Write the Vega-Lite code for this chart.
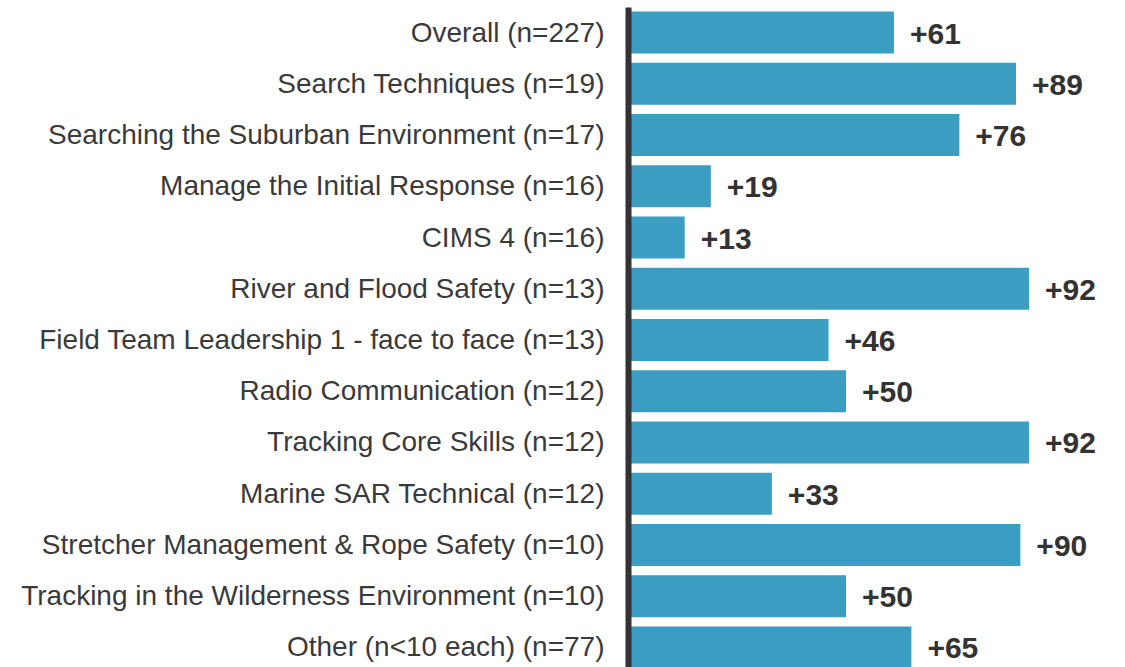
{
  "$schema": "https://vega.github.io/schema/vega-lite/v6.json",
  "autosize": {"type": "none"},
  "padding": {"left": 628, "top": 7, "right": 0, "bottom": 0},
  "width": 497,
  "height": 666,
  "background": "white",
  "config": {"view": {"stroke": null}, "font": "Liberation Sans"},
  "data": {
    "values": [
      {"course": "Overall (n=227)", "value": 61, "label": "+61"},
      {"course": "Search Techniques (n=19)", "value": 89, "label": "+89"},
      {"course": "Searching the Suburban Environment (n=17)", "value": 76, "label": "+76"},
      {"course": "Manage the Initial Response (n=16)", "value": 19, "label": "+19"},
      {"course": "CIMS 4 (n=16)", "value": 13, "label": "+13"},
      {"course": "River and Flood Safety (n=13)", "value": 92, "label": "+92"},
      {"course": "Field Team Leadership 1 - face to face (n=13)", "value": 46, "label": "+46"},
      {"course": "Radio Communication (n=12)", "value": 50, "label": "+50"},
      {"course": "Tracking Core Skills (n=12)", "value": 92, "label": "+92"},
      {"course": "Marine SAR Technical (n=12)", "value": 33, "label": "+33"},
      {"course": "Stretcher Management & Rope Safety (n=10)", "value": 90, "label": "+90"},
      {"course": "Tracking in the Wilderness Environment (n=10)", "value": 50, "label": "+50"},
      {"course": "Other (n<10 each) (n=77)", "value": 65, "label": "+65"}
    ]
  },
  "encoding": {
    "y": {
      "field": "course",
      "type": "nominal",
      "sort": null,
      "scale": {"paddingInner": 0.18, "paddingOuter": 0.09},
      "axis": {
        "title": null,
        "ticks": false,
        "tickSize": 0,
        "labelPadding": 24,
        "labelOffset": 1,
        "labelFontSize": 28,
        "labelColor": "#3a3a3a",
        "labelFont": "Liberation Sans",
        "labelLimit": 1000,
        "domainColor": "#333333",
        "domainWidth": 6,
        "zindex": 1
      }
    },
    "x": {
      "field": "value",
      "type": "quantitative",
      "scale": {"domain": [0, 114]},
      "axis": null
    }
  },
  "layer": [
    {"mark": {"type": "bar", "color": "#3a9dc1"}},
    {
      "mark": {"type": "text", "align": "left", "baseline": "middle", "dx": 16, "dy": 2, "fontSize": 30, "fontWeight": "bold", "color": "#333333", "font": "Liberation Sans"},
      "encoding": {"text": {"field": "label"}}
    }
  ]
}
